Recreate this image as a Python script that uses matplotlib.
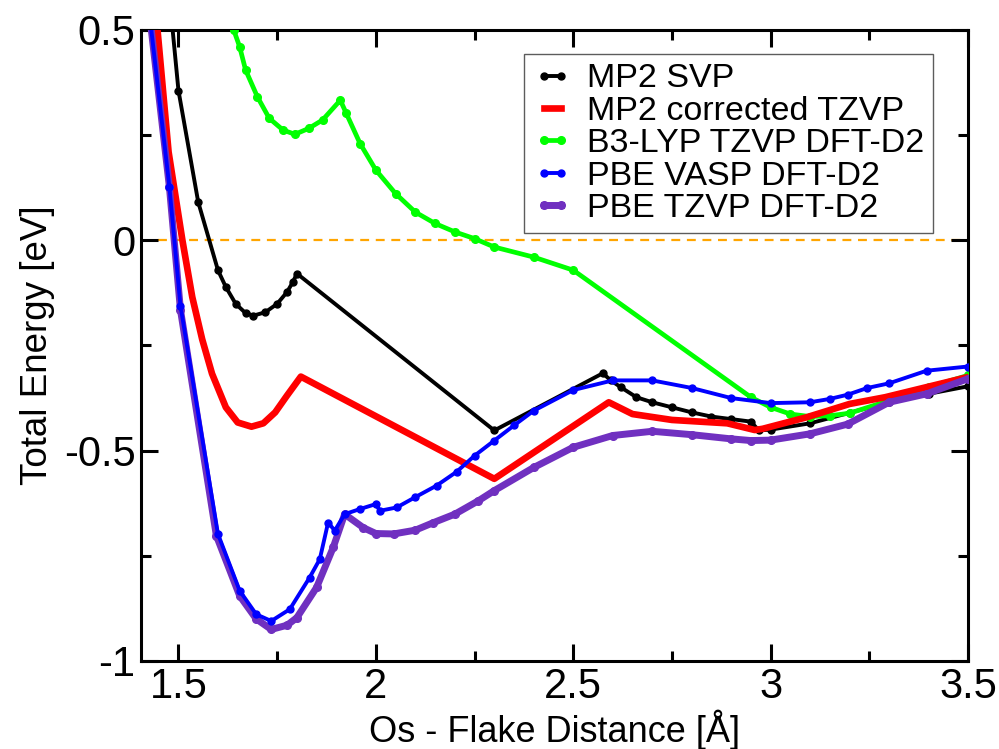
import matplotlib
matplotlib.use("Agg")
import matplotlib.pyplot as plt
from matplotlib.ticker import MultipleLocator, FuncFormatter

plt.rcParams["font.family"] = ["Liberation Sans", "DejaVu Sans"]
plt.rcParams["axes.unicode_minus"] = False

# ── Data ─────────────────────────────────────────────────────────────────────
mp2_svp_x = [1.475, 1.50, 1.55, 1.60, 1.62, 1.645, 1.67, 1.69, 1.72, 1.75, 1.775,
             1.79, 1.80, 2.30, 2.575, 2.595, 2.62, 2.66, 2.70, 2.75, 2.80, 2.85,
             2.90, 2.95, 2.97, 3.0, 3.1, 3.2, 3.3, 3.4, 3.5]
mp2_svp_y = [0.60, 0.356, 0.091, -0.071, -0.111, -0.151, -0.173, -0.179, -0.171,
             -0.151, -0.123, -0.099, -0.079, -0.452, -0.316, -0.333, -0.349, -0.373,
             -0.385, -0.397, -0.409, -0.419, -0.425, -0.431, -0.452, -0.450, -0.435,
             -0.410, -0.385, -0.365, -0.347]

mp2_tzvp_x = [1.445, 1.475, 1.51, 1.535, 1.56, 1.585, 1.62, 1.65, 1.685, 1.715, 1.745,
              1.775, 1.81, 2.30, 2.59, 2.65, 2.75, 2.89, 2.96, 2.98, 3.09, 3.20, 3.29,
              3.50]
mp2_tzvp_y = [0.52, 0.21, 0.0, -0.135, -0.235, -0.317, -0.397, -0.433, -0.443, -0.435,
              -0.409, -0.369, -0.324, -0.567, -0.385, -0.413, -0.427, -0.435, -0.451,
              -0.448, -0.421, -0.389, -0.373, -0.325]

b3lyp_x = [1.63, 1.64, 1.655, 1.67, 1.70, 1.73, 1.765, 1.795, 1.83, 1.865, 1.91, 1.925,
           1.96, 2.0, 2.05, 2.10, 2.15, 2.20, 2.25, 2.30, 2.40, 2.50, 2.95, 3.0, 3.05,
           3.10, 3.15, 3.20, 3.30, 3.40, 3.50]
b3lyp_y = [0.54, 0.50, 0.46, 0.405, 0.341, 0.290, 0.262, 0.252, 0.266, 0.286, 0.333,
           0.302, 0.230, 0.167, 0.111, 0.067, 0.040, 0.020, 0.004, -0.016, -0.040,
           -0.071, -0.373, -0.397, -0.413, -0.419, -0.417, -0.411, -0.381, -0.349,
           -0.321]

pbe_vasp_x = [1.43, 1.477, 1.505, 1.60, 1.655, 1.697, 1.735, 1.782, 1.832, 1.858,
              1.879, 1.896, 1.921, 1.959, 2.0, 2.01, 2.053, 2.099, 2.154, 2.205, 2.25,
              2.30, 2.35, 2.40, 2.50, 2.60, 2.70, 2.80, 2.90, 3.0, 3.10, 3.15, 3.195,
              3.245, 3.30, 3.395, 3.50]
pbe_vasp_y = [0.51, 0.127, -0.155, -0.698, -0.833, -0.889, -0.905, -0.877, -0.802,
              -0.758, -0.671, -0.690, -0.651, -0.639, -0.627, -0.643, -0.635, -0.611,
              -0.583, -0.550, -0.512, -0.476, -0.440, -0.405, -0.356, -0.333, -0.333,
              -0.351, -0.375, -0.387, -0.385, -0.377, -0.367, -0.351, -0.340, -0.310,
              -0.300]

pbe_tzvp_x = [1.43, 1.477, 1.505, 1.596, 1.655, 1.697, 1.735, 1.775, 1.80, 1.85, 1.892,
              1.921, 1.968, 2.0, 2.045, 2.10, 2.146, 2.20, 2.26, 2.30, 2.40, 2.50, 2.60,
              2.70, 2.80, 2.90, 2.95, 3.0, 3.10, 3.195, 3.30, 3.395, 3.50]
pbe_tzvp_y = [0.51, 0.127, -0.165, -0.702, -0.845, -0.900, -0.925, -0.915, -0.897,
              -0.825, -0.730, -0.651, -0.683, -0.697, -0.698, -0.689, -0.671, -0.651,
              -0.619, -0.595, -0.540, -0.492, -0.464, -0.454, -0.462, -0.472, -0.476,
              -0.475, -0.460, -0.437, -0.385, -0.365, -0.329]

ZERO_LINE_START = 1.447
XLIM = (1.405, 3.5)
YLIM = (-1.0, 0.5)
# ─────────────────────────────────────────────────────────────────────────────

fig = plt.figure(figsize=(9.99, 7.49), dpi=100)
ax = fig.add_axes([0.1411, 0.1175, 0.8279, 0.8425])

ax.hlines(0, ZERO_LINE_START, XLIM[1], colors="#ffa500", linestyles=(0, (4, 3)),
          linewidth=1.6, zorder=1)

ax.plot(mp2_svp_x, mp2_svp_y, color="black", lw=2.8, marker="o", ms=5,
        label="MP2 SVP", zorder=3)
ax.plot(mp2_tzvp_x, mp2_tzvp_y, color="#ff0000", lw=4.8,
        label="MP2 corrected TZVP", zorder=4)
ax.plot(b3lyp_x, b3lyp_y, color="#00ff00", lw=3.4, marker="o", ms=5.5,
        label="B3-LYP TZVP DFT-D2", zorder=3)
ax.plot(pbe_vasp_x, pbe_vasp_y, color="#0000ff", lw=2.8, marker="o", ms=5,
        label="PBE VASP DFT-D2", zorder=5)
ax.plot(pbe_tzvp_x, pbe_tzvp_y, color="#7030c0", lw=5.0, marker="o", ms=5.5,
        label="PBE TZVP DFT-D2", zorder=4)

ax.set_xlim(*XLIM)
ax.set_ylim(*YLIM)
ax.xaxis.set_major_locator(MultipleLocator(0.5))
ax.xaxis.set_minor_locator(MultipleLocator(0.25))
ax.yaxis.set_major_locator(MultipleLocator(0.5))
ax.yaxis.set_minor_locator(MultipleLocator(0.25))
fmt = FuncFormatter(lambda v, _: f"{v:g}")
ax.xaxis.set_major_formatter(fmt)
ax.yaxis.set_major_formatter(fmt)

ax.tick_params(which="both", direction="in", top=True, right=True, width=2.2,
               labelsize=30)
ax.tick_params(which="major", length=12, pad=4)
ax.tick_params(which="minor", length=7)
for s in ax.spines.values():
    s.set_linewidth(2.2)

ax.set_xlabel("Os - Flake Distance [Å]", fontsize=26, labelpad=2)
ax.set_ylabel("Total Energy [eV]", fontsize=26.5, labelpad=6)

leg = ax.legend(loc="upper right", bbox_to_anchor=(0.958, 0.962), borderaxespad=0,
                fontsize=24.5, frameon=True, fancybox=False, numpoints=2,
                handlelength=1.1, handletextpad=0.45, labelspacing=0.04,
                borderpad=0.28)
leg.get_frame().set_edgecolor("#333333")
leg.get_frame().set_linewidth(1.0)

fig.savefig("out.png", dpi=100)
